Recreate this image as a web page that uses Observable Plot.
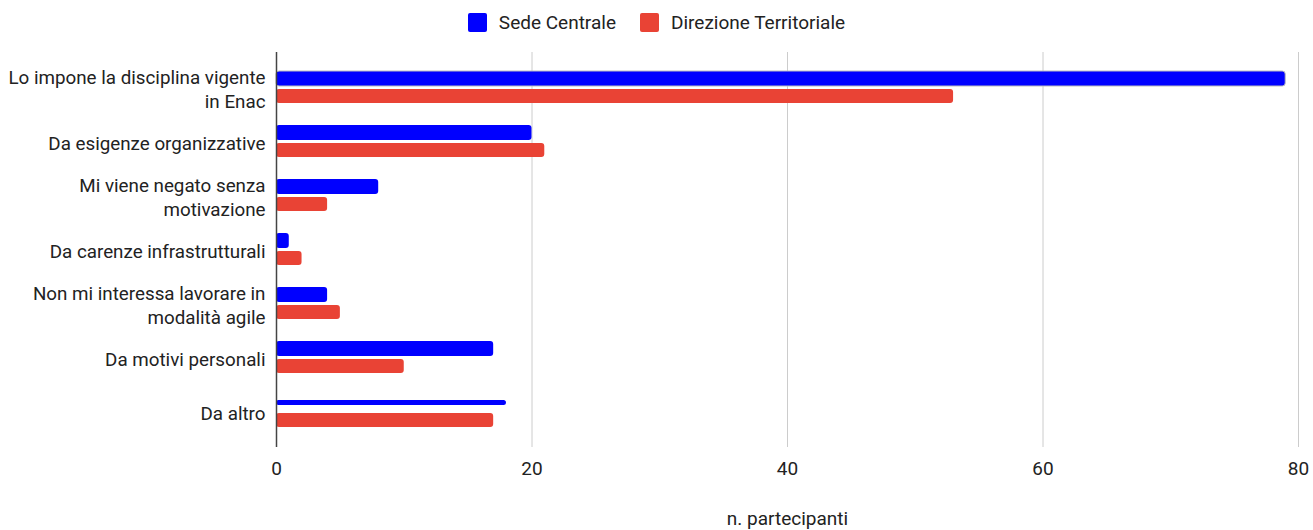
<!DOCTYPE html>
<html>
<head>
<meta charset="utf-8">
<script src="https://cdn.jsdelivr.net/npm/d3@7"></script>
<script src="https://cdn.jsdelivr.net/npm/@observablehq/plot@0.6"></script>
<style>
  html, body { margin: 0; padding: 0; background: #fff; }
  body { width: 1313px; font-family: Roboto, "Noto Sans", sans-serif; color: #222; }
  #legend { height: 45px; display: flex; justify-content: center; align-items: center; font-size: 19px; }
  .item { display: flex; align-items: center; margin: 0 12px; }
  .swatch { width: 19px; height: 19px; border-radius: 2px; margin-right: 12px; }
  #chart svg { display: block; }
</style>
</head>
<body>
<div id="legend"></div>
<div id="chart"></div>
<script>
// Reasons for not working remotely, by office
const categories = [
  "Lo impone la disciplina vigente in Enac",
  "Da esigenze organizzative",
  "Mi viene negato senza motivazione",
  "Da carenze infrastrutturali",
  "Non mi interessa lavorare in modalità agile",
  "Da motivi personali",
  "Da altro"
];
const tickLabels = [
  "Lo impone la disciplina vigente\nin Enac",
  "Da esigenze organizzative",
  "Mi viene negato senza\nmotivazione",
  "Da carenze infrastrutturali",
  "Non mi interessa lavorare in\nmodalità agile",
  "Da motivi personali",
  "Da altro"
];
const series = ["Sede Centrale", "Direzione Territoriale"];
const sedeCentrale = [79, 20, 8, 1, 4, 17, 18];
const direzioneTerritoriale = [53, 21, 4, 2, 5, 10, 17];
const xTicks = [0, 20, 40, 60, 80];
const colors = ["#0000ff", "#e94335"];

const rows = categories.flatMap((c, i) => [
  {category: c, series: series[0], value: sedeCentrale[i]},
  {category: c, series: series[1], value: direzioneTerritoriale[i]}
]);
const blue = rows.filter(d => d.series === series[0]);
const red = rows.filter(d => d.series === series[1]);

// legend
const legend = document.getElementById("legend");
series.forEach((s, i) => {
  const item = document.createElement("div");
  item.className = "item";
  item.innerHTML = `<div class="swatch" style="background:${colors[i]}"></div><span>${s}</span>`;
  legend.appendChild(item);
});

const labelOf = new Map(categories.map((c, i) => [c, tickLabels[i]]));

const chart = Plot.plot({
  width: 1313,
  height: 485,
  marginLeft: 276,
  marginRight: 15,
  marginTop: 7,
  marginBottom: 83,
  style: {fontFamily: "Roboto, 'Noto Sans', sans-serif", fontSize: "19px", color: "#222"},
  x: {domain: [0, 80]},
  y: {domain: categories, range: [15, 394], padding: 0},
  marks: [
    Plot.gridX(xTicks, {stroke: "#cccccc", strokeOpacity: 1, strokeWidth: 1}),
    Plot.barX(blue.filter(d => d.category !== "Da altro"), {
      x: "value", y: "category", fill: colors[0], insetTop: 10, insetBottom: 29, rx: 3,
      stroke: d => d.category === categories[0] ? "#bdbdbd" : "none", strokeWidth: 1
    }),
    Plot.barX(blue.filter(d => d.category === "Da altro"), {
      x: "value", y: "category", fill: colors[0], insetTop: 15, insetBottom: 34, rx: 2.5
    }),
    Plot.barX(red, {
      x: "value", y: "category", fill: colors[1], insetTop: 28, insetBottom: 12, rx: 3
    }),
    Plot.ruleX([0], {stroke: "#444", strokeWidth: 1.5}),
    Plot.axisY({
      tickSize: 0, tickPadding: 11, label: null, lineHeight: 1.26,
      tickFormat: c => labelOf.get(c), fill: "#222", fontSize: 18.8
    }),
    Plot.axisX(xTicks, {
      tickSize: 0, tickPadding: 14, tickFormat: d => String(d), fill: "#222", fontSize: 19,
      label: "n. partecipanti", labelAnchor: "center", labelOffset: 77, labelArrow: "none"
    })
  ]
});
document.getElementById("chart").appendChild(chart);
</script>
</body>
</html>
